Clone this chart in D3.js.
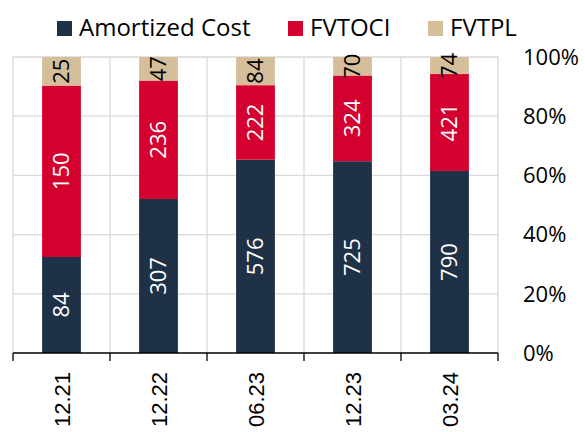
<!DOCTYPE html>
<html>
<head>
<meta charset="utf-8">
<script src="https://cdn.jsdelivr.net/npm/d3@7"></script>
<style>
  html, body { margin: 0; padding: 0; background: #fff; }
  svg { display: block; font-family: "Open Sans", "Noto Sans", sans-serif; }
</style>
</head>
<body>
<svg id="chart" width="585" height="432"></svg>
<script>
// Portfolio breakdown by measurement category
const categories = ["12.21", "12.22", "06.23", "12.23", "03.24"];
const seriesNames = ["Amortized Cost", "FVTOCI", "FVTPL"];
const amortizedCost = [84, 307, 576, 725, 790];
const fvtoci = [150, 236, 222, 324, 421];
const fvtpl = [25, 47, 84, 70, 74];
const percentTicks = [0, 0.2, 0.4, 0.6, 0.8, 1.0];

const colors = ["#1f3147", "#d4002f", "#d5be9a"];
const labelColors = ["#ffffff", "#ffffff", "#000000"];

const rows = categories.map((c, i) => ({
  cat: c,
  "Amortized Cost": amortizedCost[i],
  "FVTOCI": fvtoci[i],
  "FVTPL": fvtpl[i]
}));

const svg = d3.select("#chart");
const margin = { left: 13, right: 87, top: 57, bottom: 79 };
const W = 585, H = 432;
const plotW = W - margin.left - margin.right;
const plotH = H - margin.top - margin.bottom;

const g = svg.append("g").attr("transform", `translate(${margin.left},${margin.top})`);

const x = d3.scaleBand().domain(categories).range([0, plotW]).paddingInner(0.6).paddingOuter(0.3);
const xEdges = d3.scaleLinear().domain([0, categories.length]).range([0, plotW]);
const y = d3.scaleLinear().domain([0, 1]).range([plotH, 0]);

// gridlines
g.append("g").selectAll("line.h").data(percentTicks.slice(1)).join("line")
  .attr("x1", 0).attr("x2", plotW)
  .attr("y1", d => y(d)).attr("y2", d => y(d))
  .attr("stroke", "#d9d9d9").attr("stroke-width", 1.3);
g.append("g").selectAll("line.v").data(d3.range(categories.length + 1)).join("line")
  .attr("x1", d => xEdges(d)).attr("x2", d => xEdges(d))
  .attr("y1", 0).attr("y2", plotH)
  .attr("stroke", "#d9d9d9").attr("stroke-width", 1.3);

// stacked 100% bars
const stack = d3.stack().keys(seriesNames).offset(d3.stackOffsetExpand);
const layers = stack(rows);

layers.forEach((layer, li) => {
  const lg = g.append("g");
  lg.selectAll("rect").data(layer).join("rect")
    .attr("x", d => x(d.data.cat))
    .attr("width", x.bandwidth())
    .attr("y", d => y(d[1]))
    .attr("height", d => y(d[0]) - y(d[1]))
    .attr("fill", colors[li]);
});

layers.forEach((layer, li) => {
  g.append("g").selectAll("text").data(layer).join("text")
    .attr("transform", d => {
      const cx = x(d.data.cat) + x.bandwidth() / 2;
      const cy = (y(d[0]) + y(d[1])) / 2;
      return `translate(${cx},${cy}) rotate(-90)`;
    })
    .attr("text-anchor", "middle")
    .attr("dy", "0.35em")
    .attr("fill", labelColors[li])
    .style("font-size", "22px")
    .text(d => d.data[seriesNames[li]]);
});

// bottom axis
const axisG = g.append("g").attr("transform", `translate(0,${plotH})`);
axisG.append("line").attr("x1", 0).attr("x2", plotW).attr("y1", 0).attr("y2", 0)
  .attr("stroke", "#000").attr("stroke-width", 1.3);
axisG.selectAll("line.tick").data(d3.range(categories.length + 1)).join("line")
  .attr("x1", d => xEdges(d)).attr("x2", d => xEdges(d))
  .attr("y1", 0).attr("y2", 8)
  .attr("stroke", "#000").attr("stroke-width", 1.3);
axisG.selectAll("text").data(categories).join("text")
  .attr("transform", d => `translate(${x(d) + x.bandwidth() / 2 + 1},19) rotate(-90)`)
  .attr("text-anchor", "end")
  .attr("dy", "0.36em")
  .attr("fill", "#000")
  .style("font-family", "'Liberation Sans', Arial, sans-serif")
  .style("font-size", "22px")
  .text(d => d);

// right percentage axis
g.append("g").selectAll("text").data(percentTicks).join("text")
  .attr("x", plotW + 25)
  .attr("y", d => y(d))
  .attr("dy", "0.35em")
  .attr("fill", "#000")
  .style("font-size", "22px")
  .text(d => d3.format(".0%")(d));

// legend
const legendX = [57, 288, 428];
const legend = svg.append("g");
seriesNames.forEach((s, i) => {
  legend.append("rect").attr("x", legendX[i]).attr("y", 21).attr("width", 15).attr("height", 15)
    .attr("fill", colors[i]);
  legend.append("text").attr("x", legendX[i] + 22).attr("y", 36)
    .attr("fill", "#000").style("font-size", "24px").text(s);
});
</script>
</body>
</html>
